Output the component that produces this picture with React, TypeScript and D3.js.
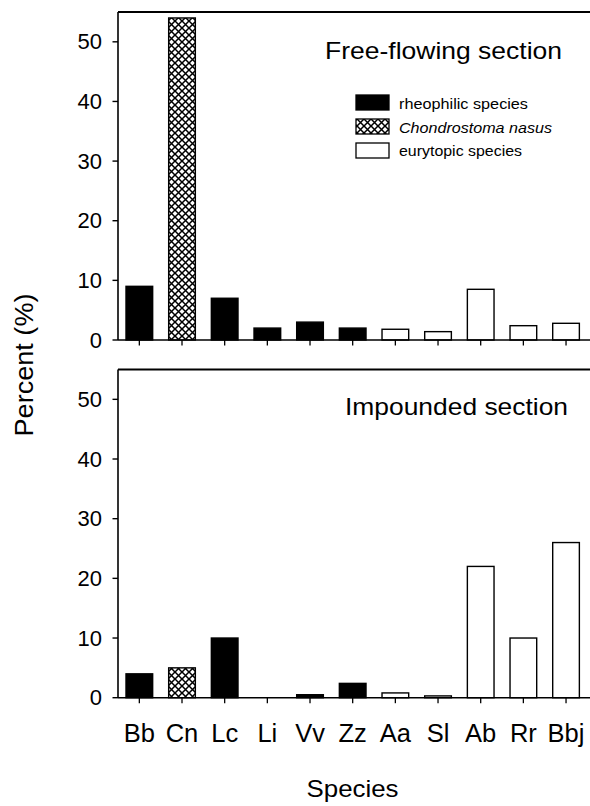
import React from "react";
import * as d3 from "d3";

const species = ["Bb", "Cn", "Lc", "Li", "Vv", "Zz", "Aa", "Sl", "Ab", "Rr", "Bbj"];
const groups = ["rheo", "cn", "rheo", "rheo", "rheo", "rheo", "eury", "eury", "eury", "eury", "eury"];
const freeFlowing = [9, 54, 7, 2, 3, 2, 1.8, 1.4, 8.5, 2.4, 2.8];
const impounded = [4, 5, 10, 0, 0.5, 2.4, 0.8, 0.3, 22, 10, 26];
const yTicks = [0, 10, 20, 30, 40, 50];
const legendItems = [
  { key: "rheo", label: "rheophilic species", italic: false, len: 129 },
  { key: "cn", label: "Chondrostoma nasus", italic: true, len: 153 },
  { key: "eury", label: "eurytopic species", italic: false, len: 123 },
];

const FONT = "'Liberation Sans', Arial, Helvetica, sans-serif";
const W = 590;
const H = 806;
const LEFT = 118;

const x = d3
  .scaleBand<string>()
  .domain(species)
  .range([LEFT, LEFT + 11 * 42.67])
  .paddingInner(0.375)
  .paddingOuter(0.1875);

function fillFor(g: string) {
  if (g === "rheo") return "#000";
  if (g === "cn") return "url(#hatch)";
  return "#fff";
}

function Panel({
  values,
  top,
  bottom,
  title,
  titleX,
  titleY,
  titleLen,
  showLegend,
}: {
  values: number[];
  top: number;
  bottom: number;
  title: string;
  titleX: number;
  titleY: number;
  titleLen: number;
  showLegend: boolean;
}) {
  const y = d3.scaleLinear().domain([0, 55]).range([bottom, top]);
  return (
    <g>
      {values.map((v, i) => {
        if (v <= 0) return null;
        const g = groups[i];
        return (
          <rect
            key={species[i]}
            x={x(species[i])}
            y={y(v)}
            width={x.bandwidth()}
            height={y(0) - y(v)}
            fill={fillFor(g)}
            stroke="#000"
            strokeWidth={1.4}
          />
        );
      })}
      <line x1={LEFT} x2={W} y1={top} y2={top} stroke="#000" strokeWidth={1.8} />
      <line x1={LEFT} x2={LEFT} y1={top} y2={bottom} stroke="#000" strokeWidth={1.6} />
      <line x1={LEFT} x2={W} y1={bottom} y2={bottom} stroke="#000" strokeWidth={1.6} />
      {yTicks.map((t) => (
        <g key={t}>
          <line x1={LEFT - 5.5} x2={LEFT} y1={y(t)} y2={y(t)} stroke="#000" strokeWidth={1.4} />
          <text
            x={102}
            y={y(t) + 7.5}
            textAnchor="end"
            fontFamily={FONT}
            fontSize={22}
            fill="#000"
          >
            {t}
          </text>
        </g>
      ))}
      {species.map((s) => (
        <line
          key={s}
          x1={(x(s) as number) + x.bandwidth() / 2}
          x2={(x(s) as number) + x.bandwidth() / 2}
          y1={bottom}
          y2={bottom + 5.5}
          stroke="#000"
          strokeWidth={1.3}
        />
      ))}
      <text
        x={titleX}
        y={titleY}
        fontFamily={FONT}
        fontSize={24.5}
        textLength={titleLen}
        lengthAdjust="spacingAndGlyphs"
        fill="#000"
      >
        {title}
      </text>
      {showLegend &&
        legendItems.map((it, i) => (
          <g key={it.key}>
            <rect
              x={356}
              y={95 + i * 24}
              width={33}
              height={15}
              fill={fillFor(it.key)}
              stroke="#000"
              strokeWidth={1.3}
            />
            <text
              x={399}
              y={109 + i * 23.5}
              fontFamily={FONT}
              fontSize={15.5}
              fontStyle={it.italic ? "italic" : "normal"}
              textLength={it.len}
              lengthAdjust="spacingAndGlyphs"
              fill="#000"
            >
              {it.label}
            </text>
          </g>
        ))}
    </g>
  );
}

export default function App() {
  return (
    <svg
      width={W}
      height={H}
      style={{ position: "absolute", left: 0, top: 0, background: "#fff" }}
    >
      <defs>
        <pattern id="hatch" patternUnits="userSpaceOnUse" width={7} height={7}>
          <rect width={7} height={7} fill="#fff" />
          <path d="M-1,-1 L8,8 M8,-1 L-1,8" stroke="#000" strokeWidth={1.5} />
        </pattern>
      </defs>
      <rect width={W} height={H} fill="#fff" />
      <Panel
        values={freeFlowing}
        top={12}
        bottom={340}
        title="Free-flowing section"
        titleX={325}
        titleY={59}
        titleLen={237}
        showLegend={true}
      />
      <Panel
        values={impounded}
        top={369.5}
        bottom={697.7}
        title="Impounded section"
        titleX={345}
        titleY={415}
        titleLen={223}
        showLegend={false}
      />
      {species.map((s) => (
        <text
          key={s}
          x={(x(s) as number) + x.bandwidth() / 2}
          y={742}
          textAnchor="middle"
          fontFamily={FONT}
          fontSize={25.5}
          fill="#000"
        >
          {s}
        </text>
      ))}
      <text
        x={352.5}
        y={797}
        textAnchor="middle"
        fontFamily={FONT}
        fontSize={24}
        textLength={92}
        lengthAdjust="spacingAndGlyphs"
        fill="#000"
      >
        Species
      </text>
      <text
        transform="translate(33,365) rotate(-90)"
        textAnchor="middle"
        fontFamily={FONT}
        fontSize={25}
        textLength={143}
        lengthAdjust="spacingAndGlyphs"
        fill="#000"
      >
        Percent (%)
      </text>
    </svg>
  );
}
